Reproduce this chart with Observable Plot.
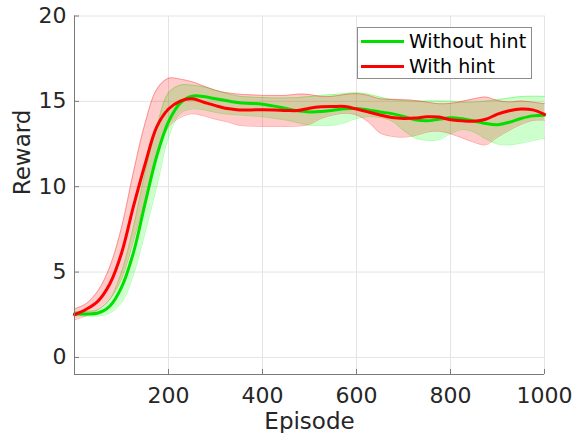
<!DOCTYPE html>
<html><head><meta charset="utf-8">
<script src="https://cdn.jsdelivr.net/npm/d3@7"></script>
<script src="https://cdn.jsdelivr.net/npm/@observablehq/plot@0.6"></script>
<style>
body{margin:0;background:#fff;}
#wrap{position:relative;width:572px;height:433px;font-family:"DejaVu Sans",sans-serif;}
#legend{position:absolute;left:357px;top:27px;width:175px;height:52px;border:1px solid #8c8c8c;background:#fff;box-sizing:border-box;font-size:19px;color:#000;}
.row{position:absolute;left:3px;height:22px;display:flex;align-items:center;white-space:nowrap;}
.sw{width:43px;height:3px;margin-right:5px;}
</style></head><body>
<div id="wrap"><div id="chart"></div><div id="legend"></div></div>
<script>
const episodes = [0,25,50,75,100,125,150,175,200,225,250,275,300,325,350,375,400,425,450,475,500,525,550,575,600,625,650,675,700,725,750,775,800,825,850,875,900,925,950,975,1000];
// Without hint (green)
const greenMean = [2.56,2.55,2.6,3.0,4.1,6.1,9.0,11.8,13.8,14.9,15.3,15.28,15.15,15.03,14.92,14.88,14.83,14.72,14.58,14.45,14.38,14.4,14.48,14.56,14.58,14.5,14.38,14.28,14.12,13.92,13.86,13.95,14.04,13.98,13.85,13.7,13.63,13.78,14.0,14.15,14.18];
const greenLow = [2.45,2.42,2.42,2.6,3.2,4.8,7.3,10.0,12.9,14.3,14.55,14.5,14.35,14.25,14.2,14.15,14.1,14.0,13.9,13.75,13.6,13.58,13.6,13.75,14.0,14.1,14.05,13.85,13.3,12.85,12.72,12.75,13.1,13.35,13.2,12.8,12.5,12.45,12.55,12.7,12.85];
const greenHigh = [2.68,2.7,2.8,3.4,5.0,7.6,10.8,13.5,15.5,15.95,15.95,15.85,15.65,15.45,15.3,15.25,15.22,15.2,15.2,15.22,15.28,15.35,15.4,15.45,15.5,15.42,15.25,15.1,15.05,15.0,15.02,15.02,15.0,14.95,14.95,15.02,15.1,15.2,15.28,15.3,15.29];
// With hint (red)
const redMean = [2.5,2.82,3.3,4.3,6.1,8.8,11.3,13.5,14.55,15.02,15.15,14.95,14.75,14.58,14.5,14.5,14.51,14.5,14.47,14.46,14.6,14.68,14.7,14.7,14.55,14.38,14.2,14.05,14.0,14.02,14.1,14.08,13.92,13.86,13.84,13.95,14.25,14.45,14.55,14.5,14.24];
const redLow = [2.2,2.45,2.8,3.4,4.6,6.8,9.3,11.8,13.5,14.05,14.27,14.15,13.95,13.8,13.6,13.55,13.53,13.53,13.53,13.55,13.65,14.0,14.2,14.3,14.2,13.8,13.15,12.95,12.9,13.0,13.2,13.25,13.1,12.85,12.6,12.45,12.9,13.3,13.65,13.88,13.9];
const redHigh = [2.85,3.15,3.9,5.3,7.6,10.8,13.7,15.7,16.35,16.3,16.15,15.9,15.65,15.5,15.42,15.38,15.35,15.35,15.35,15.42,15.4,15.28,15.3,15.4,15.45,15.35,15.15,15.12,15.1,15.05,14.95,14.86,14.88,15.0,15.15,15.25,15.05,14.96,15.02,14.95,14.86];
const xTicks = [200,400,600,800,1000];
const yTicks = [0,5,10,15,20];
const seriesNames = ["Without hint","With hint"];
const seriesColors = ["#00e000","#ff0000"];

const rows = episodes.map((ep,i)=>({ep, gm:greenMean[i], gl:greenLow[i], gh:greenHigh[i], rm:redMean[i], rl:redLow[i], rh:redHigh[i]}));
const curve = "catmull-rom";
const axisColor = "#7a7a7a";
const gridColor = "#e4e4e4";
const textColor = "#262626";
const fmt = d => String(d);

const chart = Plot.plot({
  width: 572, height: 433,
  marginLeft: 74, marginRight: 28, marginTop: 15.5, marginBottom: 59,
  style: {fontFamily: "'DejaVu Sans', sans-serif", fontSize: "22px", color: textColor, background: "white", overflow: "visible"},
  x: {domain: [0, 1000]},
  y: {domain: [-1, 20]},
  marks: [
    Plot.gridX(xTicks, {stroke: gridColor, strokeOpacity: 1}),
    Plot.gridY(yTicks, {stroke: gridColor, strokeOpacity: 1}),
    Plot.areaY(rows, {x: "ep", y1: "gl", y2: "gh", fill: "#00ff00", fillOpacity: 0.2, curve}),
    Plot.lineY(rows, {x: "ep", y: "gl", stroke: "#00ff00", strokeOpacity: 0.3, strokeWidth: 1, curve}),
    Plot.lineY(rows, {x: "ep", y: "gh", stroke: "#00ff00", strokeOpacity: 0.3, strokeWidth: 1, curve}),
    Plot.areaY(rows, {x: "ep", y1: "rl", y2: "rh", fill: "#ff0000", fillOpacity: 0.2, curve}),
    Plot.lineY(rows, {x: "ep", y: "rl", stroke: "#ff0000", strokeOpacity: 0.3, strokeWidth: 1, curve}),
    Plot.lineY(rows, {x: "ep", y: "rh", stroke: "#ff0000", strokeOpacity: 0.3, strokeWidth: 1, curve}),
    Plot.lineY(rows, {x: "ep", y: "gm", stroke: seriesColors[0], strokeWidth: 3, curve}),
    Plot.lineY(rows, {x: "ep", y: "rm", stroke: seriesColors[1], strokeWidth: 3, curve}),
    Plot.ruleX([0], {stroke: axisColor, strokeWidth: 1}),
    Plot.ruleY([-1], {stroke: axisColor, strokeWidth: 1}),
    Plot.axisX(xTicks, {tickSize: -5, fill: "none", stroke: axisColor, label: null}),
    Plot.axisY(yTicks, {tickSize: -5, fill: "none", stroke: axisColor, label: null}),
    Plot.axisX(xTicks, {tickSize: 0, tickPadding: 13, label: null, fill: textColor, fontSize: 22, tickFormat: fmt}),
    Plot.axisY(yTicks, {tickSize: 0, tickPadding: 8, label: null, fill: textColor, fontSize: 22, tickFormat: fmt}),
    Plot.text(["Episode"], {text: d => d, frameAnchor: "bottom", dy: 47, lineAnchor: "middle", fontSize: 23, fill: textColor}),
    Plot.text(["Reward"], {text: d => d, frameAnchor: "left", dx: -52, rotate: -90, lineAnchor: "middle", fontSize: 23, fill: textColor})
  ]
});
document.getElementById("chart").appendChild(chart);

const legend = document.getElementById("legend");
seriesNames.forEach((name, i) => {
  const r = document.createElement("div");
  r.className = "row";
  r.style.top = (2 + i * 25) + "px";
  const sw = document.createElement("div");
  sw.className = "sw";
  sw.style.background = seriesColors[i];
  const t = document.createElement("span");
  t.textContent = name;
  r.appendChild(sw); r.appendChild(t);
  legend.appendChild(r);
});
</script>
</body></html>
